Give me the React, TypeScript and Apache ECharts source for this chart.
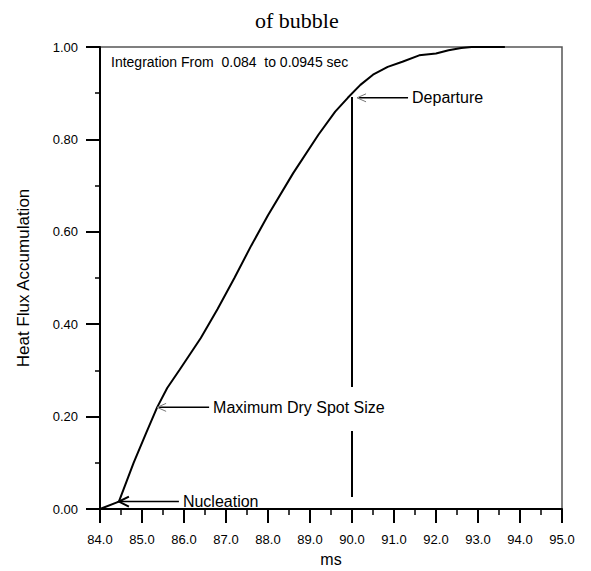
import React, { useEffect, useRef } from "react";
import * as echarts from "echarts";

// Time (ms) and normalised accumulated heat flux along the curve
const timeMs = [84.0, 84.45, 84.8, 85.1, 85.36, 85.6, 85.9, 86.4, 86.8, 87.2, 87.6, 88.0, 88.6, 89.2, 89.6, 89.9, 90.2, 90.5, 90.85, 91.2, 91.6, 92.0, 92.3, 92.6, 92.85, 93.64];
const accumulation = [0, 0.016, 0.1, 0.165, 0.22, 0.262, 0.302, 0.37, 0.433, 0.5, 0.57, 0.636, 0.727, 0.81, 0.86, 0.89, 0.918, 0.94, 0.957, 0.968, 0.982, 0.986, 0.993, 0.998, 1.0, 1.0];

// Departure marker: vertical line at 90.0 ms, broken where the dry-spot label crosses it
const departureTime = 90.0;
const departureLower = [0.026, 0.169];
const departureUpper = [0.264, 0.892];

// Annotated events: the point the arrow indicates and its label
const eventNames = ["Nucleation", "Maximum Dry Spot Size", "Departure"];
const eventTimes = [84.45, 85.36, 90.12];
const eventValues = [0.016, 0.22, 0.89];

const xTicks = { min: 84, max: 95, interval: 1 };
const yTicks = { min: 0, max: 1, interval: 0.2 };

const integrationNote = "Integration From  0.084  to 0.0945 sec";

const SANS = '"Liberation Sans", Arial, sans-serif';

export default function App() {
  const ref = useRef<HTMLDivElement | null>(null);

  useEffect(() => {
    if (!ref.current) return;
    const chart = echarts.init(ref.current, null, { renderer: "svg" });

    const curve = timeMs.map((t, i) => [t, accumulation[i]]);

    chart.setOption({
      animation: false,
      backgroundColor: "#fff",
      title: {
        text: "of bubble",
        left: 250,
        top: 4,
        textStyle: {
          fontFamily: '"Liberation Serif", "Times New Roman", serif',
          fontSize: 22,
          fontWeight: "normal",
          color: "#000",
        },
      },
      grid: {
        left: 100,
        right: 29,
        top: 47,
        bottom: 62,
        show: true,
        borderColor: "#555",
        borderWidth: 1.5,
        backgroundColor: "transparent",
        outerBoundsMode: "none",
      },
      xAxis: {
        type: "value",
        min: xTicks.min,
        max: xTicks.max,
        interval: xTicks.interval,
        name: "ms",
        nameLocation: "middle",
        nameGap: 42,
        nameTextStyle: { fontFamily: SANS, fontSize: 16, color: "#000" },
        axisLine: { show: true, onZero: false, lineStyle: { color: "#000", width: 2 } },
        axisTick: { show: true, length: 14, lineStyle: { color: "#000", width: 2 } },
        minorTick: { show: true, splitNumber: 2, length: 6, lineStyle: { color: "#000", width: 1.5 } },
        splitLine: { show: false },
        axisLabel: {
          margin: 24,
          fontFamily: SANS,
          fontSize: 13,
          color: "#000",
          formatter: (v: number) => v.toFixed(1),
        },
      },
      yAxis: {
        type: "value",
        min: yTicks.min,
        max: yTicks.max,
        interval: yTicks.interval,
        name: "Heat Flux Accumulation",
        nameLocation: "middle",
        nameGap: 68,
        nameRotate: 90,
        nameTextStyle: { fontFamily: SANS, fontSize: 17, color: "#000" },
        axisLine: { show: true, onZero: false, lineStyle: { color: "#000", width: 2 } },
        axisTick: { show: true, length: 14, lineStyle: { color: "#000", width: 2 } },
        minorTick: { show: true, splitNumber: 2, length: 5, lineStyle: { color: "#000", width: 1.5 } },
        splitLine: { show: false },
        axisLabel: {
          margin: 22,
          fontFamily: SANS,
          fontSize: 13,
          color: "#000",
          formatter: (v: number) => v.toFixed(2),
        },
      },
      series: [
        {
          type: "line",
          data: curve,
          symbol: "none",
          lineStyle: { color: "#000", width: 2 },
          z: 3,
        },
        {
          type: "line",
          data: departureLower.map((v) => [departureTime, v]),
          symbol: "none",
          lineStyle: { color: "#000", width: 2 },
        },
        {
          type: "line",
          data: departureUpper.map((v) => [departureTime, v]),
          symbol: "none",
          lineStyle: { color: "#000", width: 2 },
        },
      ],
    });

    // Arrow annotations, anchored at data points via the axes
    const toPx = (p: number[]) => chart.convertToPixel({ gridIndex: 0 }, p) as number[];
    const arrowStyles = [
      { shaft: 60, headColor: "#000", headWidth: 2, headLen: 10, headHalf: 5 },
      { shaft: 52, headColor: "#777", headWidth: 1, headLen: 9, headHalf: 4 },
      { shaft: 51, headColor: "#777", headWidth: 1, headLen: 9, headHalf: 4 },
    ];

    const elements: any[] = [];
    eventNames.forEach((name, i) => {
      const [tx, ty] = toPx([eventTimes[i], eventValues[i]]);
      const s = arrowStyles[i];
      elements.push({
        type: "line",
        shape: { x1: tx + 2, y1: ty, x2: tx + s.shaft, y2: ty },
        style: { stroke: "#000", lineWidth: 1.5 },
        z: 10,
      });
      elements.push({
        type: "polyline",
        shape: {
          points: [
            [tx + s.headLen, ty - s.headHalf],
            [tx, ty],
            [tx + s.headLen, ty + s.headHalf],
          ],
        },
        style: { stroke: s.headColor, lineWidth: s.headWidth, fill: "none" },
        z: 10,
      });
      elements.push({
        type: "text",
        x: tx + s.shaft + 4,
        y: ty,
        style: {
          text: name,
          font: `16px ${SANS}`,
          fill: "#000",
          align: "left",
          verticalAlign: "middle",
        },
        z: 10,
      });
    });

    const [gx, gy] = toPx([xTicks.min, yTicks.max]);
    elements.push({
      type: "text",
      x: gx + 11,
      y: gy + 15,
      style: {
        text: integrationNote,
        font: `14px ${SANS}`,
        fill: "#000",
        align: "left",
        verticalAlign: "middle",
      },
      z: 10,
    });

    chart.setOption({ graphic: elements });

    return () => {
      chart.dispose();
    };
  }, []);

  return (
    <div
      ref={ref}
      style={{ position: "absolute", left: 0, top: 0, width: 591, height: 571 }}
    />
  );
}
